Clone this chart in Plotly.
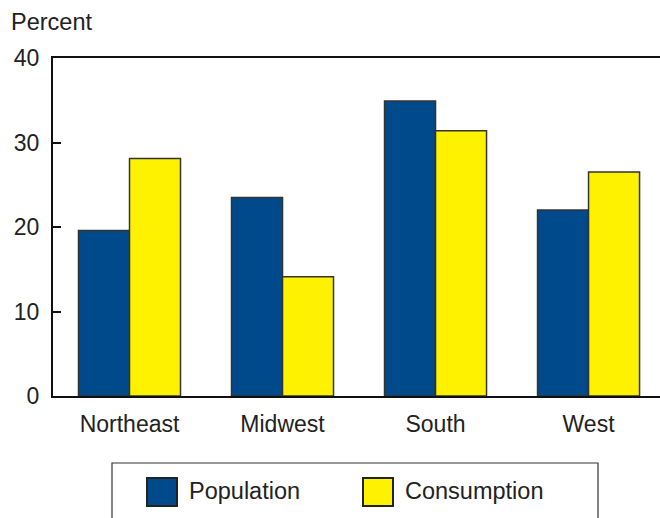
import plotly.graph_objects as go

regions = ["Northeast", "Midwest", "South", "West"]
population = [19.6, 23.5, 34.9, 22.0]
consumption = [28.1, 14.1, 31.4, 26.5]
y_ticks = [0, 10, 20, 30, 40]
series_names = ["Population", "Consumption"]
colors = ["#004A8C", "#FFF200"]

W, H = 660, 518
L, R, T, B = 53, 0, 58, 122
pw, ph = W - L - R, H - T - B

def px(x):
    return (x - L) / pw

def py(y):
    return (H - B - y) / ph

font = dict(family="Liberation Sans, Arial, sans-serif", size=23, color="#222")

fig = go.Figure()
for name, vals, c in zip(series_names, [population, consumption], colors):
    fig.add_trace(go.Bar(x=regions, y=vals, name=name, marker=dict(color=c, line=dict(color="#333", width=1.5)), showlegend=False))

fig.update_layout(
    width=W, height=H, margin=dict(l=L, r=R, t=T, b=B),
    paper_bgcolor="white", plot_bgcolor="white",
    barmode="group", bargap=1/3, bargroupgap=0,
    font=font,
    xaxis=dict(showline=True, linecolor="#111", linewidth=2, mirror=True, ticks="",
               range=[-0.5, 3.467], showgrid=False, tickfont=font, ticklabelstandoff=6),
    yaxis=dict(showline=True, linecolor="#111", linewidth=2, ticks="inside", ticklen=8, tickwidth=1.5,
               tickcolor="#111", range=[0, 40], tickvals=y_ticks, showgrid=False, zeroline=False,
               tickfont=font, ticklabelstandoff=7),
)

fig.add_annotation(text="Percent", xref="paper", yref="paper", x=px(9), y=py(7), xanchor="left", yanchor="top",
                   showarrow=False, font=dict(family=font["family"], size=23.5, color="#222"))

# legend box
fig.add_shape(type="rect", xref="paper", yref="paper", x0=px(112), x1=px(598), y0=py(530), y1=py(463),
              line=dict(color="#333", width=1.2), fillcolor="rgba(0,0,0,0)", layer="above")
for name, c, sx in zip(series_names, colors, [147, 363]):
    fig.add_shape(type="rect", xref="paper", yref="paper", x0=px(sx), x1=px(sx + 30), y0=py(506), y1=py(478),
                  line=dict(color="#222", width=2), fillcolor=c)
    fig.add_annotation(text=name, xref="paper", yref="paper", x=px(sx + 40), y=py(491), xanchor="left",
                       yanchor="middle", showarrow=False, font=dict(family=font["family"], size=23.5, color="#222"))

fig.write_html("out.html")
